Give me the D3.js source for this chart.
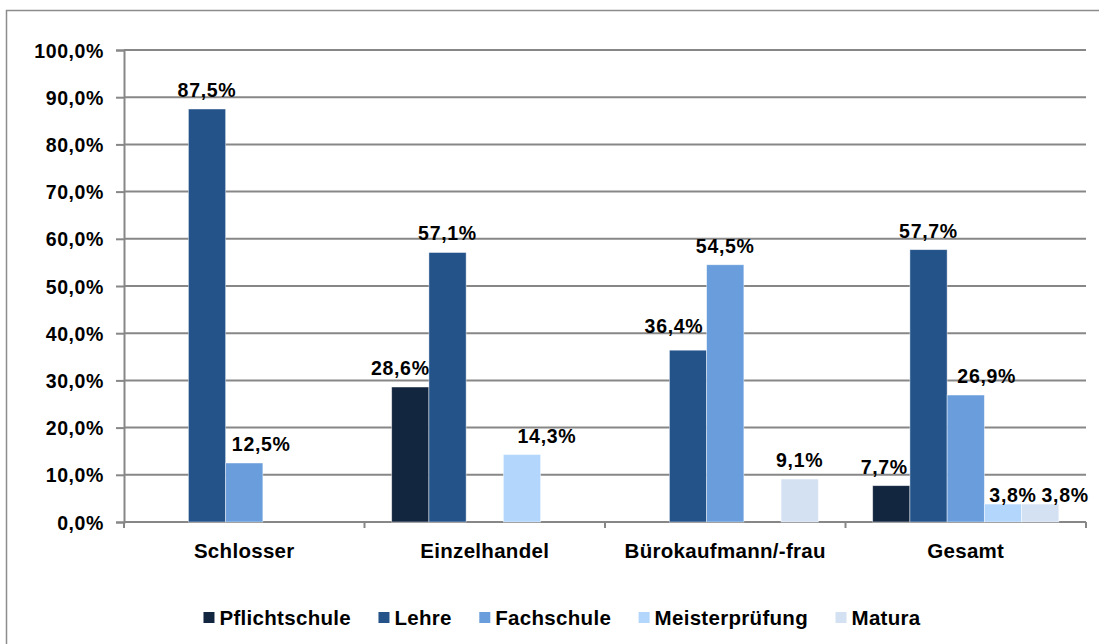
<!DOCTYPE html>
<html>
<head>
<meta charset="utf-8">
<script src="https://cdn.jsdelivr.net/npm/d3@7"></script>
<style>
  html, body { margin: 0; padding: 0; background: #fff; }
  svg { display: block; }
  text { font-family: "Liberation Sans", Arial, sans-serif; font-weight: bold; fill: #000; }
</style>
</head>
<body>
<svg id="chart" width="1099" height="644"></svg>
<script>
// ---- data ----
const categories = ["Schlosser", "Einzelhandel", "Bürokaufmann/-frau", "Gesamt"];
const seriesNames = ["Pflichtschule", "Lehre", "Fachschule", "Meisterprüfung", "Matura"];
const pflichtschule  = [null, 28.6, null, 7.7];
const lehre          = [87.5, 57.1, 36.4, 57.7];
const fachschule     = [12.5, null, 54.5, 26.9];
const meisterpruefung = [null, 14.3, null, 3.8];
const matura         = [null, null, 9.1, 3.8];
const yTicks = [0, 10, 20, 30, 40, 50, 60, 70, 80, 90, 100];

// ---- styling / layout (not data) ----
const seriesColors = ["#13263F", "#24538A", "#699DDB", "#B3D6FD", "#D4E1F2"];
// label nudges [dx, dy] for overlapping labels, keyed "categoryIndex-seriesIndex"
const labelNudge = {
  "0-2": [17, 0], "1-0": [-10, 0], "1-3": [25, 0], "2-1": [-14, -5],
  "3-0": [-7, 0], "3-2": [21, 0], "3-3": [10, 10], "3-4": [25, 10]
};

const seriesValues = [pflichtschule, lehre, fachschule, meisterpruefung, matura];
const fmt = v => v.toFixed(1).replace(".", ",") + "%";

const svg = d3.select("#chart");

// outer frame
svg.append("rect").attr("x", 6.5).attr("y", 10.5).attr("width", 1200).attr("height", 1000)
  .attr("fill", "none").attr("stroke", "#8c8c8c").attr("stroke-width", 1.5);

const plot = { left: 124, right: 1086, top: 50, bottom: 522 };

const y = d3.scaleLinear().domain([0, 100]).range([plot.bottom, plot.top]);
const x0 = d3.scaleBand().domain(categories).range([plot.left, plot.right]).padding(0);
const x1 = d3.scaleBand().domain(seriesNames).range([0, x0.bandwidth()])
  .paddingInner(0).paddingOuter(0.73);

// gridlines
svg.append("g").selectAll("line").data(yTicks.filter(t => t > 0)).join("line")
  .attr("x1", plot.left).attr("x2", plot.right)
  .attr("y1", d => y(d)).attr("y2", d => y(d))
  .attr("stroke", "#878787").attr("stroke-width", 2);

// y axis
const yAxis = d3.axisLeft(y).tickValues(yTicks).tickSize(8).tickPadding(12)
  .tickFormat(d => d.toFixed(1).replace(".", ",") + "%");
const gy = svg.append("g").attr("transform", `translate(${plot.left},0)`).call(yAxis);
gy.select(".domain").attr("stroke", "#878787").attr("stroke-width", 2);
gy.selectAll(".tick line").attr("stroke", "#878787").attr("stroke-width", 2);
gy.selectAll(".tick text").style("font-size", "19.5px").style("letter-spacing", "0.6px")
  .attr("dy", "0.36em")
  .style("font-family", '"Liberation Sans", Arial, sans-serif').style("font-weight", "bold").attr("fill", "#000");

// x axis
const gx = svg.append("g").attr("transform", `translate(0,${plot.bottom})`);
gx.append("line").attr("x1", plot.left).attr("x2", plot.right).attr("y1", 0).attr("y2", 0)
  .attr("stroke", "#878787").attr("stroke-width", 2);
const boundaries = categories.map(c => x0(c)).concat([plot.right]);
gx.selectAll("line.tk").data(boundaries).join("line").attr("class", "tk")
  .attr("x1", d => d).attr("x2", d => d).attr("y1", 0).attr("y2", 6)
  .attr("stroke", "#878787").attr("stroke-width", 2);
gx.selectAll("text").data(categories).join("text")
  .attr("x", d => x0(d) + x0.bandwidth() / 2).attr("y", 36)
  .attr("text-anchor", "middle").style("font-size", "20.5px").style("letter-spacing", "0.3px")
  .text(d => d);

// bars
const barData = [];
categories.forEach((c, ci) => {
  seriesNames.forEach((s, si) => {
    const v = seriesValues[si][ci];
    if (v != null) barData.push({ c, ci, s, si, v });
  });
});

svg.append("g").selectAll("rect").data(barData).join("rect")
  .attr("x", d => x0(d.c) + x1(d.s))
  .attr("y", d => y(d.v))
  .attr("width", x1.bandwidth())
  .attr("height", d => y(0) - y(d.v))
  .attr("fill", d => seriesColors[d.si])
  .attr("stroke", "rgba(255,255,255,0.55)").attr("stroke-width", 0.8);

svg.append("g").selectAll("text").data(barData).join("text")
  .attr("x", d => x0(d.c) + x1(d.s) + x1.bandwidth() / 2 + (labelNudge[d.ci + "-" + d.si] || [0, 0])[0])
  .attr("y", d => y(d.v) - 12 + (labelNudge[d.ci + "-" + d.si] || [0, 0])[1])
  .attr("text-anchor", "middle").style("font-size", "19.5px").style("letter-spacing", "0.7px")
  .text(d => fmt(d.v));

// legend
const legend = svg.append("g");
let cx = 0;
seriesNames.forEach((s, i) => {
  const g = legend.append("g");
  g.append("rect").attr("x", 0).attr("y", -13).attr("width", 11).attr("height", 11)
    .attr("fill", seriesColors[i]);
  const t = g.append("text").attr("x", 16).attr("y", 0).style("font-size", "20.5px")
    .style("letter-spacing", "0.3px").text(s);
  const w = 16 + t.node().getComputedTextLength();
  g.attr("transform", `translate(${cx},0)`);
  cx += w + 27.5;
});
const totalW = cx - 27.5;
legend.attr("transform", `translate(${562 - totalW / 2},625)`);
</script>
</body>
</html>
